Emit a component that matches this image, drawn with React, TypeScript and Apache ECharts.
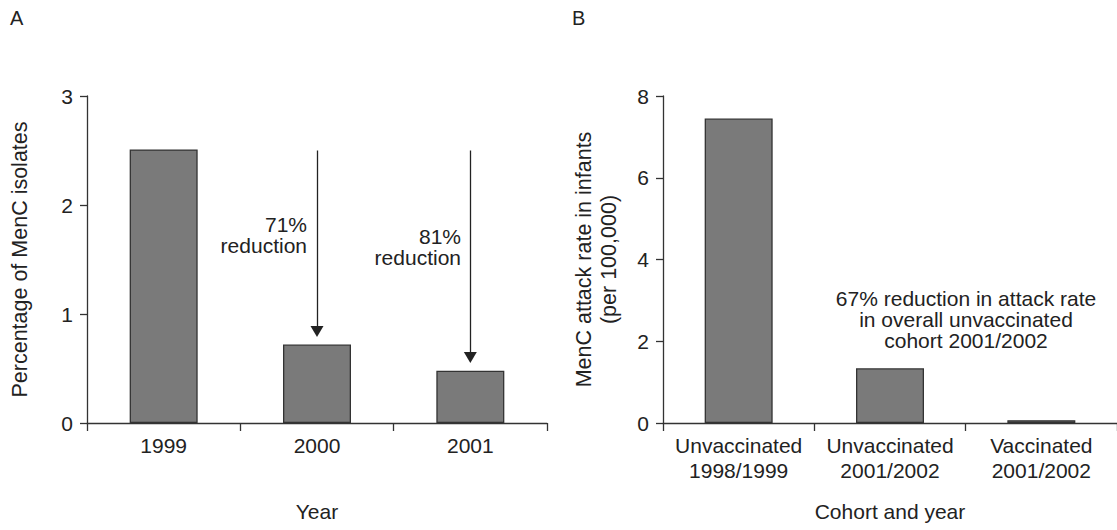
import React, { useEffect, useRef } from "react";
import * as echarts from "echarts";

// ---- Data ----
const yearsA = ["1999", "2000", "2001"];
const menCPercent = [2.51, 0.72, 0.48];
const yTicksA = { min: 0, max: 3, interval: 1 };

const cohortsB = ["Unvaccinated\n1998/1999", "Unvaccinated\n2001/2002", "Vaccinated\n2001/2002"];
const attackRate = [7.45, 1.34, 0.07];
const yTicksB = { min: 0, max: 8, interval: 2 };

// arrows in panel A: [category, start value, end value]
const arrowsA: [string, number, number][] = [
  ["2000", 2.5, 0.84],
  ["2001", 2.5, 0.6],
];

const panelLabels = ["A", "B"];
const noteA1 = "71%\nreduction";
const noteA2 = "81%\nreduction";
const noteB = "67% reduction in attack rate\nin overall unvaccinated\ncohort 2001/2002";

const FONT = "'Liberation Sans', Arial, Helvetica, sans-serif";
const TEXT = "#222";
const FS = 21;

export default function App() {
  const ref = useRef<HTMLDivElement>(null);
  useEffect(() => {
    document.body.style.margin = "0";
    const chart = echarts.init(ref.current!, undefined, { renderer: "svg" });
    const axisLine = { lineStyle: { color: "#333", width: 1.3 } };
    const commonY = {
      type: "value" as const,
      axisLine: { show: true, ...axisLine },
      axisTick: { show: true, length: 7, lineStyle: { color: "#333", width: 1.3 } },
      splitLine: { show: false },
      axisLabel: { color: TEXT, fontSize: FS, fontFamily: FONT, margin: 14 },
      nameLocation: "middle" as const,
      nameTextStyle: { color: TEXT, fontSize: 21.5, fontFamily: FONT },
    };
    const commonX = {
      type: "category" as const,
      axisLine: { show: true, ...axisLine },
      axisTick: { show: true, length: 8, interval: 0, lineStyle: { color: "#333", width: 1.3 } },
      axisLabel: { color: TEXT, fontSize: FS, fontFamily: FONT, margin: 10, lineHeight: 25, interval: 0, hideOverlap: false },
      nameLocation: "middle" as const,
      nameGap: 78,
      nameTextStyle: { color: TEXT, fontSize: FS, fontFamily: FONT },
    };
    const barStyle = { color: "#7a7a7a", borderColor: "#333", borderWidth: 1.3 };
    chart.setOption({
      animation: false,
      textStyle: { fontFamily: FONT },
      grid: [
        { left: 87, top: 96, width: 460, height: 327 },
        { left: 663, top: 96, width: 460, height: 327 },
      ],
      xAxis: [
        { ...commonX, gridIndex: 0, data: yearsA, name: "Year" },
        { ...commonX, gridIndex: 1, data: cohortsB, name: "Cohort and year" },
      ],
      yAxis: [
        { ...commonY, gridIndex: 0, ...yTicksA, name: "Percentage of MenC isolates", nameGap: 56 },
        {
          ...commonY,
          gridIndex: 1,
          ...yTicksB,
          name: "MenC attack rate in infants\n(per 100,000)",
          nameGap: 42,
          nameTextStyle: { color: TEXT, fontSize: 21.5, fontFamily: FONT, lineHeight: 25 },
        },
      ],
      series: [
        {
          type: "bar",
          xAxisIndex: 0,
          yAxisIndex: 0,
          data: menCPercent,
          barWidth: 68,
          itemStyle: barStyle,
          markLine: {
            silent: true,
            symbol: ["none", "triangle"],
            symbolSize: [13, 11],
            label: { show: false },
            lineStyle: { color: "#222", width: 1.3, type: "solid" },
            itemStyle: { color: "#222" },
            data: arrowsA.map(([c, a, b]) => [{ coord: [c, a] }, { coord: [c, b] }]),
          },
        },
        {
          type: "bar",
          xAxisIndex: 1,
          yAxisIndex: 1,
          data: attackRate,
          barWidth: 68,
          itemStyle: barStyle,
        },
      ],
      graphic: [
        { type: "text", left: 10, top: 8, style: { text: panelLabels[0], fill: TEXT, font: `20px ${FONT}` } },
        { type: "text", left: 572, top: 8, style: { text: panelLabels[1], fill: TEXT, font: `20px ${FONT}` } },
        {
          type: "text",
          x: 307,
          y: 214,
          style: { text: noteA1, fill: TEXT, font: `${FS}px ${FONT}`, align: "right", verticalAlign: "top", lineHeight: 21 },
        },
        {
          type: "text",
          x: 461,
          y: 226,
          style: { text: noteA2, fill: TEXT, font: `${FS}px ${FONT}`, align: "right", verticalAlign: "top", lineHeight: 21 },
        },
        {
          type: "text",
          x: 966,
          y: 288,
          style: { text: noteB, fill: TEXT, font: `${FS}px ${FONT}`, align: "center", verticalAlign: "top", lineHeight: 21 },
        },
      ],
    });
    return () => chart.dispose();
  }, []);
  return <div ref={ref} style={{ width: 1117, height: 530 }} />;
}
